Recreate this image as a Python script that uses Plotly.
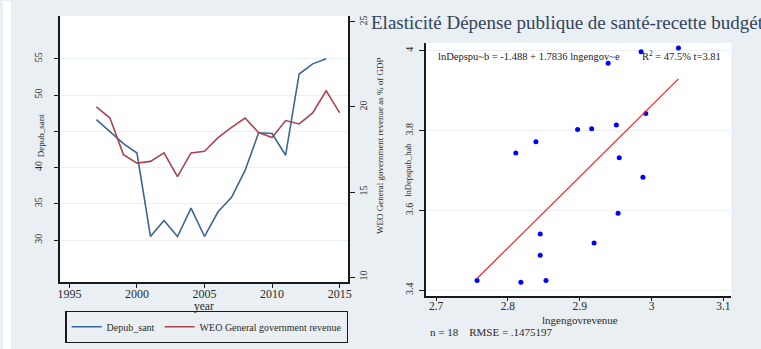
import plotly.graph_objects as go

W, H = 761, 349

# ---------------- data ----------------
years_dep = list(range(1997, 2015))
depub_sant = [46.6, 45.0, 43.3, 42.0, 30.5, 32.7, 30.5, 34.4, 30.5, 33.9,
              35.9, 39.6, 44.8, 44.7, 41.7, 52.9, 54.3, 55.0]
years_weo = list(range(1997, 2016))
weo_revenue = [20.0, 19.35, 17.2, 16.7, 16.8, 17.3, 15.9, 17.3, 17.4, 18.2,
               18.8, 19.35, 18.5, 18.2, 19.2, 19.0, 19.65, 20.95, 19.65]

ln_gengov = [2.9855, 3.0375, 2.9396, 2.992, 2.811, 2.839, 2.897, 2.9166, 2.951,
             2.955, 2.988, 2.9534, 2.845, 2.920, 2.845, 2.757, 2.818, 2.853]
ln_depspub = [3.998, 4.007, 3.969, 3.843, 3.744, 3.772, 3.803, 3.805, 3.814,
              3.732, 3.683, 3.593, 3.541, 3.518, 3.4875, 3.424, 3.42, 3.424]
fit_intercept, fit_slope = -1.488, 1.7836

left_xticks = [1995, 2000, 2005, 2010, 2015]
left_yticks = [30, 35, 40, 45, 50, 55]
left_ytext = ["30", "35", "40", "", "50", "55"]
right_yticks = [10, 15, 20, 25]
sc_xticks = [2.7, 2.8, 2.9, 3.0, 3.1]
sc_xtext = ["2.7", "2.8", "2.9", "3", "3.1"]
sc_yticks = [3.4, 3.6, 3.8, 4.0]
sc_ytext = ["3.4", "3.6", "3.8", "4"]

title_right = "Elasticité Dépense publique de santé-recette budgétaire"
eq_text = "lnDepspu~b = -1.488 + 1.7836 lngengov~e"
r2_text = "R<sup>2</sup> = 47.5% t=3.81"
foot_text = "n = 18    RMSE = .1475197"

# ---------------- helpers ----------------
def fx(px):
    return px / W

def fy(py):
    return 1 - py / H

SERIF = "Liberation Serif"
BG = "#e9eff2"
TXT = "#2b2b2b"
GRID = "#eaf1f4"

fit_x = [min(ln_gengov), max(ln_gengov)]
fit_y = [fit_intercept + fit_slope * v for v in fit_x]

fig = go.Figure()
fig.add_trace(go.Scatter(x=years_dep, y=depub_sant, mode="lines", name="Depub_sant",
                         line=dict(color="#3a6796", width=1.6), xaxis="x", yaxis="y"))
fig.add_trace(go.Scatter(x=years_weo, y=weo_revenue, mode="lines",
                         name="WEO General government revenue",
                         line=dict(color="#a8454e", width=1.6), xaxis="x", yaxis="y2"))
fig.add_trace(go.Scatter(x=ln_gengov, y=ln_depspub, mode="markers", showlegend=False,
                         marker=dict(color="#0000ff", size=5), xaxis="x3", yaxis="y3"))
fig.add_trace(go.Scatter(x=fit_x, y=fit_y, mode="lines", showlegend=False,
                         line=dict(color="#ff2020", width=1.2), xaxis="x3", yaxis="y3"))

def axstyle(size, ticklen=5, standoff=0):
    return dict(showline=True, linecolor="#1a1a1a", linewidth=1.6, ticks="outside",
                ticklen=ticklen, tickcolor="#1a1a1a", tickwidth=1, zeroline=False,
                ticklabelstandoff=standoff,
                tickfont=dict(family=SERIF, size=size, color=TXT))

fig.update_layout(
    width=W, height=H, margin=dict(l=0, r=0, t=0, b=0),
    paper_bgcolor=BG, plot_bgcolor="white",
    xaxis=dict(domain=[fx(58), fx(348)], range=[1994.34, 2015.6], tickvals=left_xticks,
               showgrid=False, anchor="y", **axstyle(12, 4, -4)),
    yaxis=dict(domain=[fy(282), fy(15)], range=[24.2, 60.9], tickvals=left_yticks,
               ticktext=left_ytext, tickangle=-90, showgrid=True, gridcolor=GRID,
               anchor="x", **axstyle(10, 5, 8)),
    yaxis2=dict(overlaying="y", side="right", range=[9.7, 25.35], tickvals=right_yticks,
                tickangle=-90, showgrid=False, anchor="x", **axstyle(10)),
    xaxis3=dict(domain=[fx(427), fx(735)], range=[2.686, 3.111], tickvals=sc_xticks,
                ticktext=sc_xtext, showgrid=False, anchor="y3", **axstyle(11.5, 3, -5)),
    yaxis3=dict(domain=[fy(296), fy(42)], range=[3.385, 4.02], tickvals=sc_yticks,
                ticktext=sc_ytext, tickangle=-90, showgrid=True, gridcolor=GRID,
                anchor="x3", **axstyle(10, 5, 2)),
    legend=dict(orientation="h", x=fx(63), y=fy(311), xanchor="left", yanchor="top",
                bgcolor=BG, bordercolor="#1a1a1a", borderwidth=1.2, itemwidth=30,
                font=dict(family=SERIF, size=10, color=TXT), tracegroupgap=0),
    showlegend=True,
)

fig.add_shape(type="rect", xref="paper", yref="paper", x0=0, x1=fx(8), y0=0, y1=1,
              fillcolor="white", line=dict(width=0), layer="below")

ann = [
    dict(text="year", x=fx(203), y=fy(306.5), size=11.5),
    dict(text="Depub_sant", x=fx(38), y=fy(135), size=9, angle=-90),
    dict(text="WEO General government revenue as % of GDP", x=fx(380), y=fy(145),
         size=9, angle=-90),
    dict(text="lnDepspub_hab", x=fx(408), y=fy(170), size=8.5, angle=-90),
    dict(text="lngengovrevenue", x=fx(582), y=fy(319.5), size=11),
]
for a in ann:
    fig.add_annotation(text=a["text"], x=a["x"], y=a["y"], xref="paper", yref="paper",
                       showarrow=False, textangle=a.get("angle", 0),
                       xanchor="center", yanchor="middle",
                       font=dict(family=SERIF, size=a["size"], color=TXT))

fig.add_annotation(text=title_right, x=fx(369), y=fy(22), xref="paper", yref="paper",
                   showarrow=False, xanchor="left", yanchor="middle",
                   font=dict(family=SERIF, size=19, color="#34435a"))
fig.add_annotation(text=eq_text, x=fx(437), y=fy(56), xref="paper", yref="paper",
                   showarrow=False, xanchor="left", yanchor="middle",
                   font=dict(family=SERIF, size=10.5, color="#1a1a1a"))
fig.add_annotation(text=r2_text, x=fx(643), y=fy(55), xref="paper", yref="paper",
                   showarrow=False, xanchor="left", yanchor="middle",
                   font=dict(family=SERIF, size=10.5, color="#1a1a1a"))
fig.add_annotation(text=foot_text, x=fx(429), y=fy(331.5), xref="paper", yref="paper",
                   showarrow=False, xanchor="left", yanchor="middle",
                   font=dict(family=SERIF, size=11, color=TXT))

fig.write_html("out.html")
